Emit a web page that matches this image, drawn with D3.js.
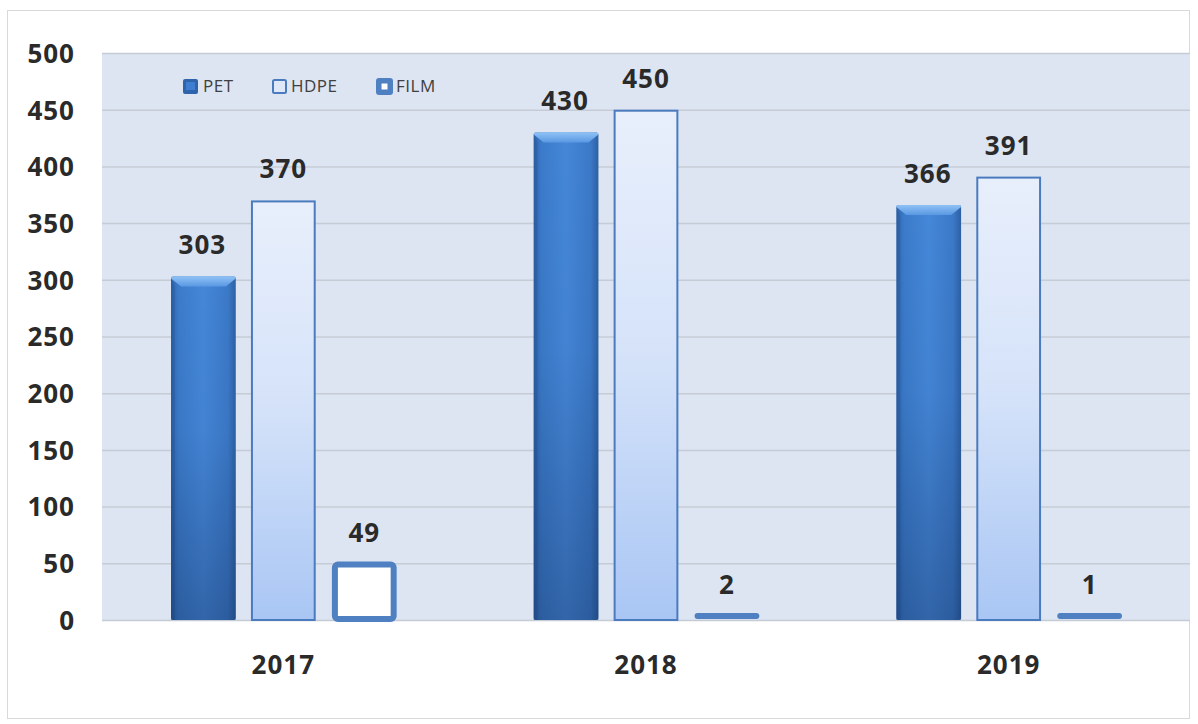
<!DOCTYPE html>
<html>
<head>
<meta charset="utf-8">
<script src="https://cdn.jsdelivr.net/npm/d3@7"></script>
<style>
  html, body { margin: 0; padding: 0; background: #ffffff; }
  svg { display: block; }
</style>
</head>
<body>
<svg id="chart" width="1198" height="724"></svg>
<script>
const years = ["2017", "2018", "2019"];
const seriesNames = ["PET", "HDPE", "FILM"];
const petValues = [303, 430, 366];
const hdpeValues = [370, 450, 391];
const filmValues = [49, 2, 1];
const yTicks = [0, 50, 100, 150, 200, 250, 300, 350, 400, 450, 500];

const svg = d3.select("#chart");
const plot = { left: 102, right: 1190, top: 53, bottom: 620 };
const FONT = "'Open Sans', 'Noto Sans', sans-serif";

// outer frame
svg.append("rect").attr("x", 7.5).attr("y", 10.5).attr("width", 1182).attr("height", 708)
  .attr("fill", "#ffffff").attr("stroke", "#d9d9d9").attr("stroke-width", 1);

const defs = svg.append("defs");
const petGrad = defs.append("linearGradient").attr("id", "petGrad").attr("x1", 0).attr("x2", 1).attr("y1", 0).attr("y2", 0);
[[0, "#2f66ad"], [0.12, "#3b7bca"], [0.5, "#4587d8"], [0.88, "#3b79c8"], [1, "#2d60a3"]]
  .forEach(([o, c]) => petGrad.append("stop").attr("offset", o).attr("stop-color", c));
const petV = defs.append("linearGradient").attr("id", "petShade").attr("x1", 0).attr("x2", 0).attr("y1", 0).attr("y2", 1);
[[0, "rgba(10,30,70,0)"], [0.45, "rgba(10,30,70,0.04)"], [1, "rgba(10,30,70,0.32)"]]
  .forEach(([o, c]) => petV.append("stop").attr("offset", o).attr("stop-color", c));
const petTop = defs.append("linearGradient").attr("id", "petTop").attr("x1", 0).attr("x2", 0).attr("y1", 0).attr("y2", 1);
[[0, "#8fc2f6"], [1, "#5a98e2"]].forEach(([o, c]) => petTop.append("stop").attr("offset", o).attr("stop-color", c));
const hdpeGrad = defs.append("linearGradient").attr("id", "hdpeGrad").attr("x1", 0).attr("x2", 0).attr("y1", 0).attr("y2", 1);
[[0, "#e8effb"], [0.5, "#d4e2f9"], [1, "#a9c6f4"]]
  .forEach(([o, c]) => hdpeGrad.append("stop").attr("offset", o).attr("stop-color", c));

// plot background
svg.append("rect").attr("x", plot.left).attr("y", plot.top)
  .attr("width", plot.right - plot.left).attr("height", plot.bottom - plot.top)
  .attr("fill", "#dde5f2");

const y = d3.scaleLinear().domain([0, 500]).range([plot.bottom, plot.top]);
const x0 = d3.scaleBand().domain(years).range([plot.left, plot.right]).paddingInner(0.375).paddingOuter(0.1875);
const x1 = d3.scaleBand().domain(seriesNames).range([0, x0.bandwidth()]).paddingInner(0.2);

// gridlines
svg.append("g").selectAll("line").data(yTicks).join("line")
  .attr("x1", plot.left).attr("x2", plot.right)
  .attr("y1", d => y(d) + 0.5).attr("y2", d => y(d) + 0.5)
  .attr("stroke", "#c6ccd6").attr("stroke-width", 1.5);

// y axis labels
const yAxis = d3.axisLeft(y).tickValues(yTicks).tickSize(0).tickPadding(0);
const gy = svg.append("g").attr("transform", `translate(${plot.left - 27},0)`).call(yAxis);
gy.select(".domain").remove();
gy.selectAll("text").attr("font-family", FONT).attr("font-weight", 700)
  .attr("font-size", 26).attr("letter-spacing", 1).attr("fill", "#2a2a2a").attr("dy", "0.36em");

// x axis labels
const xAxis = d3.axisBottom(x0).tickSize(0).tickPadding(0);
const gx = svg.append("g").attr("transform", `translate(0,${plot.bottom + 45})`).call(xAxis);
gx.select(".domain").remove();
gx.selectAll("text").attr("font-family", FONT).attr("font-weight", 700)
  .attr("font-size", 26).attr("letter-spacing", 1).attr("fill", "#2a2a2a").attr("dy", "0.36em");

const rows = years.map((yr, i) => ({ year: yr, PET: petValues[i], HDPE: hdpeValues[i], FILM: filmValues[i] }));

const groups = svg.append("g").selectAll("g").data(rows).join("g")
  .attr("transform", d => `translate(${x0(d.year)},0)`);

const bw = x1.bandwidth();

// PET: shaded column with bevelled top
groups.each(function (d) {
  const g = d3.select(this);
  const bx = x1("PET") + 1, top = y(d.PET), h = plot.bottom - top;
  g.append("rect").attr("x", bx).attr("y", top).attr("width", bw).attr("height", h)
    .attr("rx", 2).attr("fill", "url(#petGrad)");
  g.append("rect").attr("x", bx).attr("y", top).attr("width", bw).attr("height", h)
    .attr("fill", "url(#petShade)");
  const bev = 10;
  g.append("path")
    .attr("d", `M${bx},${top + 2} Q${bx},${top} ${bx + 2},${top} L${bx + bw - 2},${top} Q${bx + bw},${top} ${bx + bw},${top + 2} L${bx + bw - bev},${top + bev} L${bx + bev},${top + bev} Z`)
    .attr("fill", "url(#petTop)");
  g.append("path")
    .attr("d", `M${bx},${top + 2} L${bx + 4},${top + bev} L${bx + 4},${plot.bottom} L${bx},${plot.bottom} Z`)
    .attr("fill", "rgba(20,50,100,0.15)");
});

// HDPE: light outlined column
groups.append("rect")
  .attr("x", x1("HDPE") + 1).attr("y", d => y(d.HDPE) + 1)
  .attr("width", bw - 2).attr("height", d => plot.bottom - y(d.HDPE) - 1)
  .attr("fill", "url(#hdpeGrad)").attr("stroke", "#4a7bbf").attr("stroke-width", 2);

// FILM: white box with heavy blue frame; very small values collapse to a thin bar
groups.each(function (d) {
  const g = d3.select(this);
  const bx = x1("FILM"), top = y(d.FILM), h = plot.bottom - top;
  if (h > 12) {
    g.append("rect").attr("x", bx + 3).attr("y", top)
      .attr("width", bw - 6).attr("height", h - 1).attr("rx", 3)
      .attr("fill", "#ffffff").attr("stroke", "#4f81c2").attr("stroke-width", 6);
  } else {
    g.append("rect").attr("x", bx).attr("y", plot.bottom - 7)
      .attr("width", bw).attr("height", 6).attr("rx", 3)
      .attr("fill", "#4f81c2");
  }
});

// value labels
const labelData = [];
rows.forEach(r => seriesNames.forEach(s => labelData.push({ year: r.year, s, v: r[s] })));
svg.append("g").selectAll("text").data(labelData).join("text")
  .attr("x", d => x0(d.year) + x1(d.s) + bw / 2)
  .attr("y", d => Math.min(y(d.v) - 3, plot.bottom - 7) - 19)
  .attr("text-anchor", "middle")
  .attr("font-family", FONT).attr("font-weight", 700).attr("font-size", 26)
  .attr("letter-spacing", 1)
  .attr("fill", "#2a2a2a")
  .text(d => d.v);

// legend
const legend = svg.append("g").attr("transform", "translate(0,86)");
const legendPos = [{ name: "PET", x: 183 }, { name: "HDPE", x: 272 }, { name: "FILM", x: 376 }];
legendPos.forEach(l => {
  const g = legend.append("g").attr("transform", `translate(${l.x},0)`);
  if (l.name === "PET") {
    g.append("rect").attr("x", 0).attr("y", -7).attr("width", 15).attr("height", 15).attr("rx", 2)
      .attr("fill", "#2d64ab");
    g.append("rect").attr("x", 3).attr("y", -4).attr("width", 9).attr("height", 8).attr("fill", "#3f7dd0");
  } else if (l.name === "HDPE") {
    g.append("rect").attr("x", 1).attr("y", -6).attr("width", 13).attr("height", 13).attr("rx", 1.5)
      .attr("fill", "#dfe8f8").attr("stroke", "#4a7bbf").attr("stroke-width", 2);
  } else {
    g.append("rect").attr("x", 0).attr("y", -8).attr("width", 17).attr("height", 17).attr("rx", 3)
      .attr("fill", "#4f81c2");
    g.append("rect").attr("x", 5.5).attr("y", -2.5).attr("width", 6).attr("height", 6).attr("fill", "#ffffff");
  }
  g.append("text").attr("x", l.name === "HDPE" ? 19 : 20).attr("y", 0).attr("dy", "0.36em")
    .attr("font-family", FONT).attr("font-size", 17).attr("fill", "#404040")
    .attr("letter-spacing", 0.5)
    .text(l.name);
});
</script>
</body>
</html>
